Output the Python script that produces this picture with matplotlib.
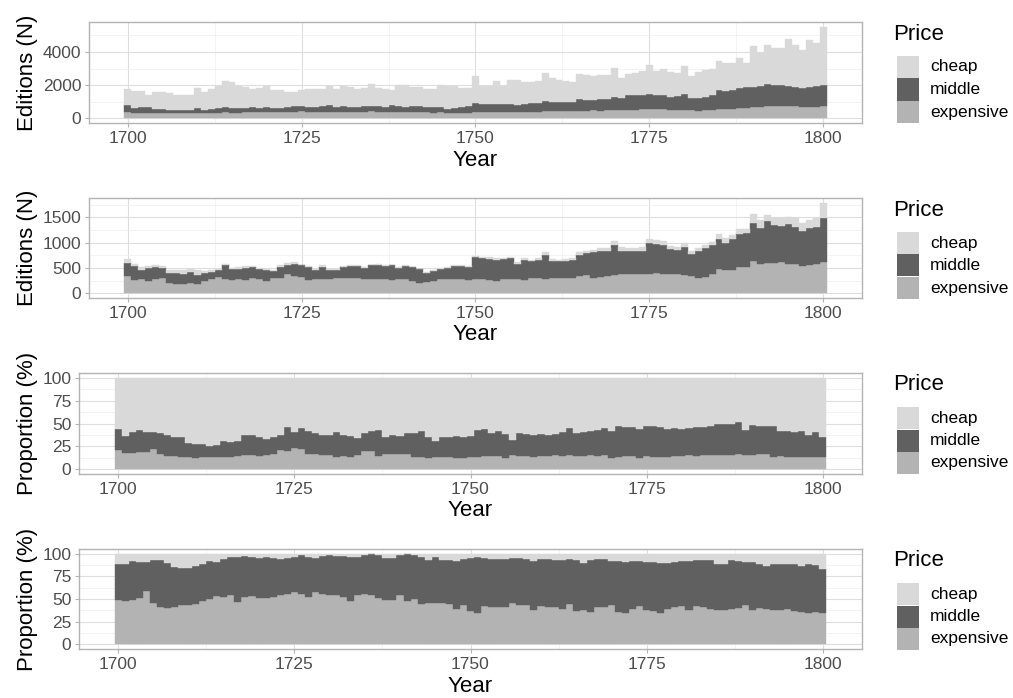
import numpy as np
import matplotlib
matplotlib.use("Agg")
import matplotlib.pyplot as plt
from matplotlib.patches import Rectangle

plt.rcParams['font.family'] = ['Liberation Sans', 'DejaVu Sans']

years = list(range(1700, 1801))
categories = ["cheap", "middle", "expensive"]
x_ticks = [1700, 1725, 1750, 1775, 1800]

# Panel 1: editions (N), all
p1_cheap = [950,1030,960,700,1010,1020,1010,910,930,880,
            1230,1090,1190,1300,1520,1590,1300,1250,1100,1160,
            1270,1070,1090,910,810,930,1050,1050,1020,1180,
            1050,1160,1190,1090,1100,1340,1080,1030,940,1260,
            1290,1140,1170,1070,1070,1320,1340,1300,1110,1110,
            1610,1040,1100,1380,1080,1420,1500,1280,1300,1320,
            1680,1420,1360,1260,1160,1480,1500,1440,1460,1440,
            1720,1210,1280,1320,1440,1760,1460,1580,1480,1440,
            1720,1280,1620,1620,1580,1770,1710,1650,1820,1460,
            2470,1990,2350,2230,2250,2820,2570,2290,2860,2590,
            3510]
p1_middle = [380,290,370,360,270,220,180,190,190,210,
             280,170,220,280,350,260,280,290,310,280,
             290,280,250,280,350,330,310,310,360,390,
             300,390,320,320,340,330,340,330,400,360,
             330,360,350,340,350,330,250,300,370,380,
             590,510,480,460,510,500,420,500,510,550,
             620,570,530,540,570,730,640,640,670,690,
             810,730,860,870,880,880,850,840,780,810,
             940,760,730,810,860,1140,1080,1120,1210,1240,
             1190,1260,1370,1280,1270,1220,1140,1120,1210,1270,
             1270]
p1_expensive = [410,340,320,320,320,340,310,300,300,310,
                320,320,330,350,360,350,350,360,370,360,
                370,370,360,390,400,420,400,380,390,400,
                390,380,390,380,390,420,410,380,390,390,
                380,390,380,370,350,360,340,350,330,340,
                360,380,390,390,380,370,410,390,400,380,
                430,420,440,450,440,450,460,480,470,490,
                490,510,520,530,540,560,550,540,520,510,
                500,480,470,490,520,560,560,580,620,650,
                700,690,720,730,740,750,730,690,660,700,
                740]

# Panel 2: editions (N), subset
p2_cheap = [85,45,70,30,26,38,45,59,90,58,
            90,46,26,19,39,19,30,30,30,30,
            30,25,30,30,20,19,15,25,26,20,
            15,20,20,20,20,15,12,15,15,15,
            15,12,15,20,20,19,25,25,30,30,
            30,25,25,25,25,25,20,25,25,30,
            50,30,30,30,30,50,45,55,55,60,
            80,80,75,70,70,90,84,78,60,50,
            90,52,52,52,60,100,100,80,100,90,
            180,160,116,130,143,149,180,143,160,163,
            300]
p2_middle = [253,273,182,259,247,182,195,201,182,215,
             169,149,150,130,260,221,208,240,207,195,
             208,143,214,194,247,227,253,163,247,176,
             162,207,246,220,214,273,279,247,292,227,
             260,272,260,182,195,208,202,260,260,259,
             435,422,422,422,388,409,312,409,337,370,
             487,350,324,350,357,428,435,500,519,506,
             584,454,454,441,467,597,565,571,506,480,
             545,435,532,571,571,604,539,623,656,669,
             747,702,825,747,715,780,734,708,728,734,
             871]
p2_expensive = [344,266,279,247,279,312,214,195,195,214,
                195,247,279,325,292,266,279,266,312,279,
                247,299,312,377,344,325,266,292,279,279,
                299,312,299,312,292,279,292,292,260,279,
                279,247,214,227,247,279,292,279,279,260,
                279,279,266,247,292,292,279,260,299,299,
                279,299,312,299,312,338,364,312,325,338,
                364,377,377,390,377,390,409,390,377,377,
                364,344,312,325,377,474,455,455,519,519,
                636,584,604,604,623,584,584,532,571,584,
                623]

# Panel 3: proportion (%), all
p3_cheap = [56,64,59,57,59,59,60,63,65,65,
            71,72,72,74,73,69,70,69,63,63,
            65,67,65,62,54,59,55,58,60,63,
            62,59,63,64,66,60,58,57,65,62,
            64,60,60,58,65,69,65,65,64,65,
            64,57,56,60,58,61,68,60,61,62,
            61,62,61,59,55,60,59,58,57,55,
            58,53,54,54,56,53,53,54,56,55,
            56,55,54,54,53,50,50,50,48,57,
            52,53,53,53,58,58,59,58,62,59,
            65]
p3_middle = [23,18,23,24,22,19,23,22,20,21,
             15,16,15,12,13,17,16,16,21,21,
             20,17,18,17,26,18,23,25,23,21,
             22,27,22,22,18,20,22,28,18,21,
             19,23,26,28,23,18,21,21,24,23,
             23,29,29,25,27,27,16,25,24,25,
             24,23,23,26,29,25,26,26,28,29,
             30,34,31,31,32,32,33,33,30,30,
             29,29,31,30,31,34,34,34,35,27,
             32,30,30,33,27,28,27,29,24,28,
             22]
p3_expensive = [21,18,18,19,19,22,17,15,15,14,
                14,12,13,14,14,14,14,15,16,16,
                15,16,17,21,20,23,22,17,17,16,
                16,14,15,14,16,20,20,15,17,17,
                17,17,14,14,12,13,14,14,12,12,
                13,14,15,15,15,12,16,15,15,13,
                15,15,16,15,16,15,15,16,15,16,
                12,13,15,15,12,15,14,13,14,15,
                15,16,15,16,16,16,16,16,17,16,
                16,17,17,14,15,14,14,13,14,13,
                13]

# Panel 4: proportion (%), subset
p4_cheap = [11,11,8,9,9,7,7,10,15,16,
            16,14,12,8,9,6,4,4,3,4,
            5,4,5,6,5,4,2,4,5,3,
            2,3,3,4,4,2,1,2,5,5,
            2,1,2,4,7,4,7,7,8,6,
            5,4,5,6,6,6,5,5,6,8,
            6,6,7,7,6,7,10,7,6,6,
            8,8,9,8,8,9,9,10,10,9,
            8,8,7,7,7,12,11,7,8,9,
            9,12,14,12,11,12,12,14,12,13,
            17]
p4_middle = [40,41,43,40,32,47,52,50,44,41,
             41,41,40,42,38,42,42,49,45,43,
             44,45,43,40,40,38,43,44,37,42,
             44,43,45,48,42,43,45,47,46,46,
             44,51,48,51,47,50,47,48,53,51,
             58,61,53,53,53,53,49,52,51,54,
             52,53,52,54,50,56,52,57,53,53,
             49,56,56,53,50,53,54,55,51,50,
             50,54,51,52,54,50,51,54,52,48,
             53,48,47,50,51,49,51,50,53,51,
             48]
p4_expensive = [49,48,49,51,59,46,41,40,41,43,
                43,45,48,50,53,52,54,47,52,53,
                51,51,52,54,55,58,55,52,58,55,
                54,54,52,48,54,55,54,51,49,49,
                54,48,50,45,46,46,46,45,39,43,
                37,35,42,41,41,41,46,43,43,38,
                42,41,41,39,44,37,38,36,41,41,
                43,36,35,39,42,38,37,35,39,41,
                42,38,42,41,39,38,38,39,40,43,
                38,40,39,38,38,39,37,36,35,36,
                35]

colors = {"cheap": "#d9d9d9", "middle": "#606060", "expensive": "#b3b3b3"}

W, H = 1013, 698
fig = plt.figure(figsize=(W / 100, H / 100), dpi=100)

def fig_rect(l, t, r, b):
    return [l / W, 1 - b / H, (r - l) / W, (b - t) / H]

panels = [
    dict(box=(89, 22, 862, 123), data=(p1_cheap, p1_middle, p1_expensive),
         ylabel="Editions (N)", yt=[0, 2000, 4000], ym=[1000, 3000, 5000]),
    dict(box=(89, 198, 862, 298), data=(p2_cheap, p2_middle, p2_expensive),
         ylabel="Editions (N)", yt=[0, 500, 1000, 1500], ym=[250, 750, 1250, 1750]),
    dict(box=(79, 373, 862, 474), data=(p3_cheap, p3_middle, p3_expensive),
         ylabel="Proportion (%)", yt=[0, 25, 50, 75, 100], ym=[12.5, 37.5, 62.5, 87.5]),
    dict(box=(79, 549, 862, 649), data=(p4_cheap, p4_middle, p4_expensive),
         ylabel="Proportion (%)", yt=[0, 25, 50, 75, 100], ym=[12.5, 37.5, 62.5, 87.5]),
]

yrs = np.array(years)
xmin, xmax = yrs.min() - 0.5, yrs.max() + 0.5
xpad = 0.05 * (xmax - xmin)

for p in panels:
    l, t, r, b = p["box"]
    ax = fig.add_axes(fig_rect(l, t, r, b))
    cheap, middle, expensive = [np.array(v, dtype=float) for v in p["data"]]
    bottom = np.zeros(len(yrs))
    for name, vals in (("expensive", expensive), ("middle", middle), ("cheap", cheap)):
        ax.bar(yrs, vals, bottom=bottom, width=1.0, color=colors[name],
               edgecolor=colors[name], linewidth=0.3, zorder=2)
        bottom = bottom + vals
    top = bottom.max()
    ax.set_xlim(xmin - xpad, xmax + xpad)
    ax.set_ylim(-0.05 * top, top * 1.05)
    ax.set_xticks(x_ticks)
    ax.set_xticks([1712.5, 1737.5, 1762.5, 1787.5], minor=True)
    ax.set_yticks(p["yt"])
    ax.set_yticks(p["ym"], minor=True)
    ax.set_axisbelow(True)
    ax.grid(which="major", color="#dedede", linewidth=0.8, zorder=0)
    ax.grid(which="minor", color="#eeeeee", linewidth=0.5, zorder=0)
    for s in ax.spines.values():
        s.set_color("#b3b3b3")
        s.set_linewidth(1.0)
    ax.tick_params(which="major", length=3, width=0.8, color="#b3b3b3",
                   labelsize=12.5, labelcolor="#4d4d4d", pad=2.5)
    ax.tick_params(which="minor", length=0)
    # axis titles
    fig.text(27 / W, 1 - ((t + b) / 2) / H, p["ylabel"], rotation=90,
             ha="center", va="center", fontsize=16, color="black")
    fig.text(((l + r) / 2) / W, 1 - (b + 37) / H, "Year",
             ha="center", va="center", fontsize=16, color="black")
    # legend
    fig.text(893 / W, 1 - (t + 12) / H, "Price", ha="left", va="center",
             fontsize=16, color="black")
    for i, name in enumerate(categories):
        cy = t + 45 + 22.5 * i
        fig.add_artist(Rectangle(((897) / W, 1 - (cy + 11) / H), 22 / W, 22 / H,
                                 transform=fig.transFigure, facecolor=colors[name],
                                 edgecolor="none"))
        fig.text(930 / W, 1 - cy / H, name, ha="left", va="center",
                 fontsize=12.5, color="black")

fig.savefig("out.png", dpi=100)
